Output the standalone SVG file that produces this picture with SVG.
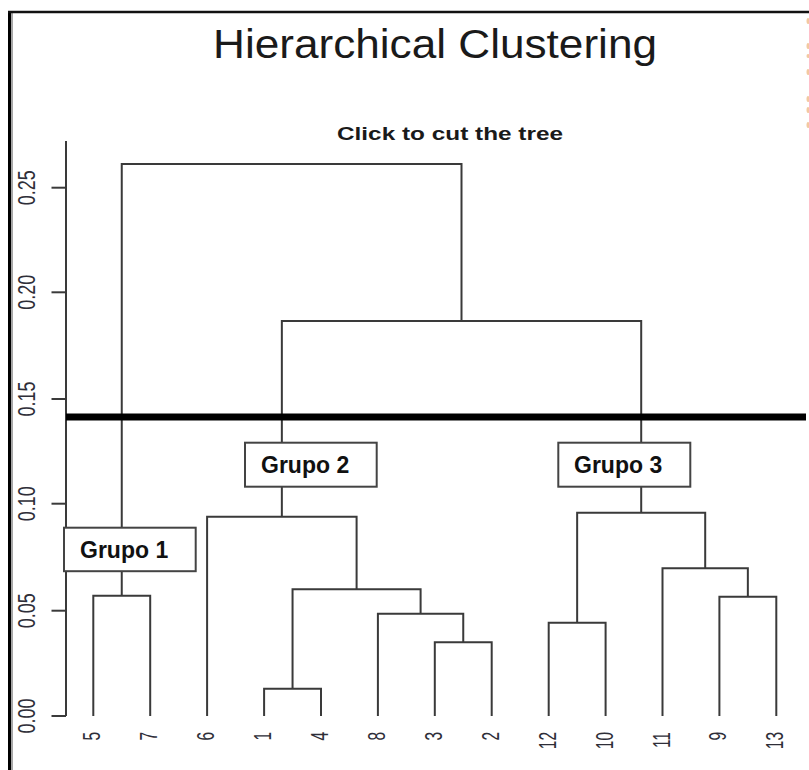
<svg xmlns="http://www.w3.org/2000/svg" width="809" height="770" viewBox="0 0 809 770">
  <style>
    .ln { stroke: #3a3a3a; stroke-width: 2; fill: none; stroke-linejoin: miter; }
    .tick { stroke: #3a3a3a; stroke-width: 2; }
    .num { font-family: "Liberation Sans", Arial, sans-serif; font-size: 18px; fill: #2e2e38; }
    .leaf { font-family: "Liberation Sans", Arial, sans-serif; font-size: 15.5px; fill: #2e2e38; text-anchor: end; }
    .box rect { fill: #ffffff; stroke: #444444; stroke-width: 2; }
    .box text { font-family: "Liberation Sans", Arial, sans-serif; font-size: 23px; font-weight: bold; fill: #111111; }
  </style>

  <rect x="0" y="0" width="809" height="770" fill="#ffffff"/>

  <!-- window frame -->
  <g id="frame">
    <line x1="9.5" y1="11" x2="9.5" y2="770" stroke="#000000" stroke-width="3"/>
    <line x1="12" y1="13" x2="12" y2="770" stroke="#8a8a8a" stroke-width="1.5"/>
    <line x1="8" y1="12" x2="809" y2="12" stroke="#111111" stroke-width="2.5"/>
    <g fill="#f3c9a0">
      <ellipse cx="808" cy="21" rx="1.5" ry="3"/>
      <ellipse cx="808" cy="46" rx="1.5" ry="3"/>
      <ellipse cx="808" cy="56" rx="1.5" ry="2"/>
      <ellipse cx="808" cy="72" rx="1.5" ry="3"/>
      <ellipse cx="808" cy="99" rx="1.5" ry="3"/>
      <ellipse cx="808" cy="110" rx="1.5" ry="3"/>
      <ellipse cx="808" cy="125" rx="1.5" ry="3"/>
    </g>
  </g>

  <!-- titles -->
  <g id="titles">
    <text x="213" y="58" font-family="Liberation Sans, Arial, sans-serif" font-size="40" fill="#1a1a1a" textLength="444" lengthAdjust="spacingAndGlyphs">Hierarchical Clustering</text>
    <text x="337" y="140" font-family="Liberation Sans, Arial, sans-serif" font-size="18" font-weight="bold" fill="#1a1a1a" textLength="226" lengthAdjust="spacingAndGlyphs">Click to cut the tree</text>
  </g>

  <!-- height axis -->
  <g id="axis">
    <line class="tick" x1="66" y1="141" x2="66" y2="716"/>
    <line class="tick" x1="51.5" y1="716" x2="66" y2="716"/>
    <line class="tick" x1="51.5" y1="610.7" x2="66" y2="610.7"/>
    <line class="tick" x1="51.5" y1="503.7" x2="66" y2="503.7"/>
    <line class="tick" x1="51.5" y1="399" x2="66" y2="399"/>
    <line class="tick" x1="51.5" y1="292.3" x2="66" y2="292.3"/>
    <line class="tick" x1="51.5" y1="187.7" x2="66" y2="187.7"/>
    <g text-anchor="middle">
      <text class="num" transform="translate(35,716) scale(1.3,1) rotate(-90)">0.00</text>
      <text class="num" transform="translate(35,610.7) scale(1.3,1) rotate(-90)">0.05</text>
      <text class="num" transform="translate(35,503.7) scale(1.3,1) rotate(-90)">0.10</text>
      <text class="num" transform="translate(35,399) scale(1.3,1) rotate(-90)">0.15</text>
      <text class="num" transform="translate(35,292.3) scale(1.3,1) rotate(-90)">0.20</text>
      <text class="num" transform="translate(35,187.7) scale(1.3,1) rotate(-90)">0.25</text>
    </g>
  </g>

  <!-- dendrogram links -->
  <g id="connectors">
    <path class="ln" d="M121.75,595.7 V164 H461.5 V321"/>
    <path class="ln" d="M281.85,516.7 V321 H641.2 V512.7"/>
    <path class="ln" d="M93.3,716 V595.7 H150.2 V716"/>
    <path class="ln" d="M207.1,716 V516.7 H356.6 V589.3"/>
    <path class="ln" d="M292.55,688.7 V589.3 H420.6 V613.7"/>
    <path class="ln" d="M264.1,716 V688.7 H321 V716"/>
    <path class="ln" d="M377.9,716 V613.7 H463.25 V642.3"/>
    <path class="ln" d="M434.8,716 V642.3 H491.7 V716"/>
    <path class="ln" d="M577.15,622.7 V512.7 H705.2 V568.3"/>
    <path class="ln" d="M548.7,716 V622.7 H605.6 V716"/>
    <path class="ln" d="M662.5,716 V568.3 H747.85 V596.7"/>
    <path class="ln" d="M719.4,716 V596.7 H776.3 V716"/>
  </g>

  <!-- leaf labels -->
  <g id="leaves">
    <text class="leaf" transform="translate(100.3,732) scale(1.5,1) rotate(-90)">5</text>
    <text class="leaf" transform="translate(157.2,732) scale(1.5,1) rotate(-90)">7</text>
    <text class="leaf" transform="translate(214.1,732) scale(1.5,1) rotate(-90)">6</text>
    <text class="leaf" transform="translate(271.1,732) scale(1.5,1) rotate(-90)">1</text>
    <text class="leaf" transform="translate(328,732) scale(1.5,1) rotate(-90)">4</text>
    <text class="leaf" transform="translate(384.9,732) scale(1.5,1) rotate(-90)">8</text>
    <text class="leaf" transform="translate(441.8,732) scale(1.5,1) rotate(-90)">3</text>
    <text class="leaf" transform="translate(498.7,732) scale(1.5,1) rotate(-90)">2</text>
    <text class="leaf" transform="translate(555.7,732) scale(1.5,1) rotate(-90)">12</text>
    <text class="leaf" transform="translate(612.6,732) scale(1.5,1) rotate(-90)">10</text>
    <text class="leaf" transform="translate(669.5,732) scale(1.5,1) rotate(-90)">11</text>
    <text class="leaf" transform="translate(726.4,732) scale(1.5,1) rotate(-90)">9</text>
    <text class="leaf" transform="translate(783.3,732) scale(1.5,1) rotate(-90)">13</text>
  </g>

  <!-- cut level -->
  <line id="cut" x1="66" y1="417" x2="806" y2="417" stroke="#000000" stroke-width="7"/>

  <!-- cluster labels -->
  <g id="grupo1" class="box">
    <rect x="64" y="527.7" width="131.7" height="43.5"/>
    <text x="80" y="557.7">Grupo 1</text>
  </g>
  <g id="grupo2" class="box">
    <rect x="245" y="442.7" width="131.7" height="44"/>
    <text x="261" y="472.7">Grupo 2</text>
  </g>
  <g id="grupo3" class="box">
    <rect x="558.3" y="442.7" width="132" height="44"/>
    <text x="574" y="472.7">Grupo 3</text>
  </g>
</svg>
